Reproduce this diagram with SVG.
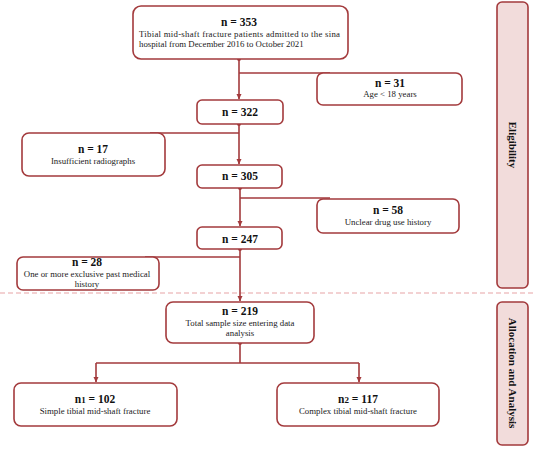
<svg xmlns="http://www.w3.org/2000/svg" width="533" height="450" viewBox="0 0 533 450">
<style>
.box{fill:#fff;stroke:#A33A3C;stroke-width:1.6}
.side{fill:#F2DCDB;stroke:#A33A3C;stroke-width:1.6}
.ln{fill:none;stroke:#A33A3C;stroke-width:1.6}
.h{font-family:"Liberation Serif",serif;font-weight:bold;font-size:11.5px;fill:#111;text-anchor:middle}
.t{font-family:"Liberation Serif",serif;font-size:8.8px;fill:#222;text-anchor:middle}
.s{font-family:"Liberation Serif",serif;font-weight:bold;font-size:11px;fill:#111;text-anchor:middle}
.dot{fill:#A33A3C}
</style>
<defs>
<marker id="ah" markerWidth="6" markerHeight="6" refX="5" refY="3" orient="auto" markerUnits="userSpaceOnUse">
<path d="M0,0.5 L5.5,3 L0,5.5 Z" fill="#A33A3C"/>
</marker>
</defs>
<rect width="533" height="450" fill="#fff"/>
<line x1="0" y1="293" x2="533" y2="293" stroke="#E8A4A6" stroke-width="1.2" stroke-dasharray="5,3"/>
<g id="connectors">
<path class="ln" d="M239,59 V99" marker-end="url(#ah)"/>
<path class="ln" d="M239,73 H330"/>
<path class="ln" d="M239,124 V164" marker-end="url(#ah)"/>
<path class="ln" d="M239,133 H150"/>
<path class="ln" d="M240,188 V226" marker-end="url(#ah)"/>
<path class="ln" d="M240,198 H330"/>
<path class="ln" d="M240,249 V301" marker-end="url(#ah)"/>
<path class="ln" d="M240,257 H145"/>
<path class="ln" d="M240,343 V363 M96,363 H359"/>
<path class="ln" d="M96,363 V382" marker-end="url(#ah)"/>
<path class="ln" d="M359,363 V382" marker-end="url(#ah)"/>
<circle class="dot" cx="239" cy="59" r="2"/>
<circle class="dot" cx="239" cy="124" r="2"/>
<circle class="dot" cx="240" cy="188" r="2"/>
<circle class="dot" cx="240" cy="249" r="2"/>
<circle class="dot" cx="240" cy="343" r="2"/>
</g>
<g id="n353">
<rect class="box" x="133" y="6" width="215" height="53" rx="8"/>
<text class="h" x="239" y="26">n = 353</text>
<text class="t" x="139" y="37" style="text-anchor:start" textLength="201" lengthAdjust="spacing">Tibial mid-shaft fracture patients admitted to the sina</text>
<text class="t" x="139" y="47" style="text-anchor:start">hospital from December 2016 to October 2021</text>
</g>
<g id="n31">
<rect class="box" x="317" y="73" width="145" height="32" rx="6"/>
<text class="h" x="390" y="87">n = 31</text>
<text class="t" x="390" y="97">Age &lt; 18 years</text>
</g>
<g id="n322">
<rect class="box" x="197" y="100" width="86" height="24" rx="5"/>
<text class="h" x="240" y="116">n = 322</text>
</g>
<g id="n17">
<rect class="box" x="22" y="133" width="143" height="43" rx="7"/>
<text class="h" x="93" y="153">n = 17</text>
<text class="t" x="93" y="164">Insufficient radiographs</text>
</g>
<g id="n305">
<rect class="box" x="197" y="165" width="85" height="23" rx="5"/>
<text class="h" x="240" y="180">n = 305</text>
</g>
<g id="n58">
<rect class="box" x="317" y="199" width="142" height="34" rx="6"/>
<text class="h" x="388" y="214">n = 58</text>
<text class="t" x="388" y="225">Unclear drug use history</text>
</g>
<g id="n247">
<rect class="box" x="197" y="227" width="85" height="22" rx="5"/>
<text class="h" x="240" y="243">n = 247</text>
</g>
<g id="n28">
<rect class="box" x="17" y="257" width="142" height="33" rx="6"/>
<text class="h" x="87" y="266">n = 28</text>
<text class="t" x="87" y="277">One or more exclusive past medical</text>
<text class="t" x="87" y="287">history</text>
</g>
<g id="n219">
<rect class="box" x="166" y="302" width="148" height="41" rx="7"/>
<text class="h" x="240" y="315">n = 219</text>
<text class="t" x="240" y="326">Total sample size entering data</text>
<text class="t" x="240" y="336">analysis</text>
</g>
<g id="n102">
<rect class="box" x="14" y="383" width="163" height="43" rx="7"/>
<text class="h" x="95" y="403">n<tspan font-size="9">1</tspan> = 102</text>
<text class="t" x="95" y="414">Simple tibial mid-shaft fracture</text>
</g>
<g id="n117">
<rect class="box" x="277" y="383" width="162" height="43" rx="7"/>
<text class="h" x="358" y="403">n<tspan font-size="9">2</tspan> = 117</text>
<text class="t" x="358" y="414">Complex tibial mid-shaft fracture</text>
</g>
<g id="eligibility">
<rect class="side" x="497" y="2" width="31" height="286" rx="5"/>
<text class="s" transform="translate(512.5,145) rotate(90)" dy="4">Eligibility</text>
</g>
<g id="allocation">
<rect class="side" x="497" y="302" width="31" height="143" rx="5"/>
<text class="s" transform="translate(512.5,373) rotate(90)" dy="4">Allocation and Analysis</text>
</g>
</svg>
